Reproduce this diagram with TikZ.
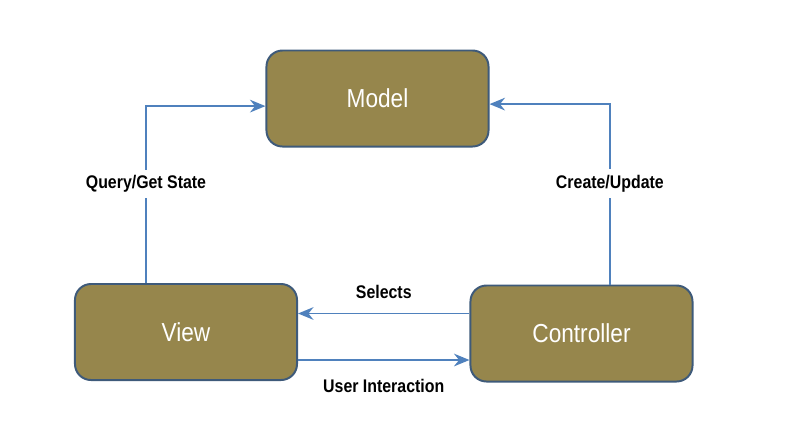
\documentclass[tikz,border=0pt]{standalone}
\usepackage{fontspec}
\setmainfont{Liberation Sans}[FakeStretch=0.87]
\usepackage{tikz}
\usetikzlibrary{positioning,arrows.meta}
\definecolor{boxfill}{RGB}{150,134,76}
\definecolor{boxline}{RGB}{62,90,122}
\definecolor{arrline}{RGB}{79,129,189}
\tikzstyle{block} = [draw=boxline, line width=1.4pt, fill=boxfill, rectangle,
    rounded corners=0.4cm, minimum width=5.55cm, minimum height=2.4cm,
    text=white, font=\fontsize{18.5}{20}\selectfont]
\tikzstyle{link} = [draw=arrline, line width=1.3pt, -{Stealth[length=11pt,width=9pt]}]
\tikzstyle{lbl} = [fill=white, inner sep=4pt, font=\bfseries\fontsize{13}{14}\selectfont]

\begin{document}
\begin{tikzpicture}[x=0.025cm, y=-0.025cm, node distance=1cm]
	  \useasboundingbox (0,0) rectangle (797,424);
	  \node [block] (model) at (377.5,98.5) {Model};
	  \node [block] (view) at (186,332) {View};
	  \node [block] (controller) at (581.5,333.5) {Controller};
	  \draw [link] ([xshift=-1cm]view.north) |- node [lbl, pos=0.28] {Query/Get State} ([yshift=-0.19cm]model.west);
	  \draw [link] ([xshift=0.71cm]controller.north) |- node [lbl, pos=0.28] {Create/Update} ([yshift=-0.14cm]model.east);
	  \draw [link] ([yshift=0.5cm]controller.west) -- node [lbl, above=6pt, fill=none] {Selects} ([yshift=0.5cm]controller.west -| view.east);
	  \draw [link] ([yshift=-0.7cm]view.east) -- node [lbl, below=9pt, fill=none] {User Interaction} ([yshift=-0.7cm]view.east -| controller.west);
	\end{tikzpicture}
\end{document}
